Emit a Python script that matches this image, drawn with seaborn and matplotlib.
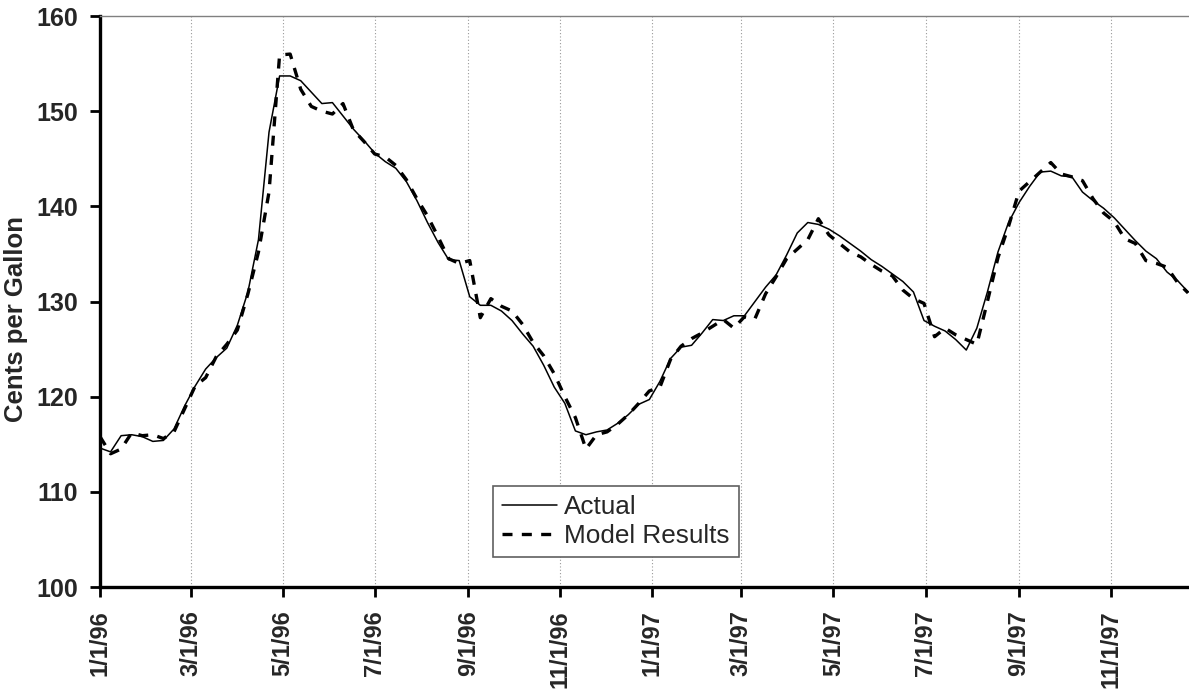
import matplotlib
matplotlib.use('Agg')
import matplotlib.pyplot as plt
import seaborn as sns
import pandas as pd

# weekly prices, cents per gallon
weeks = pd.date_range('1996-01-01', periods=104, freq='7D')

actual = [114.6, 114.2, 115.9, 116.0, 115.8, 115.3, 115.4, 116.6, 119.0, 121.1,
          122.9, 124.1, 125.1, 127.5, 131.0, 136.5, 147.8, 153.7, 153.7, 153.2,
          152.0, 150.8, 150.9, 149.5, 148.1, 146.9, 145.6, 144.7, 144.0, 142.6,
          140.6, 138.3, 136.2, 134.4, 134.3, 130.5, 129.6, 129.6, 129.0, 128.0,
          126.6, 125.3, 123.3, 121.0, 119.3, 116.4, 116.0, 116.3, 116.5, 117.2,
          118.1, 119.2, 119.7, 121.6, 124.0, 125.2, 125.4, 126.7, 128.1, 128.0,
          128.5, 128.5, 130.0, 131.5, 132.8, 134.9, 137.2, 138.3, 138.1, 137.6,
          136.9, 136.1, 135.3, 134.4, 133.7, 132.9, 132.1, 131.0, 128.0, 127.4,
          126.9, 126.0, 124.9, 127.2, 131.0, 135.2, 138.3, 140.4, 142.1, 143.6,
          143.7, 143.2, 143.1, 141.5, 140.6, 139.8, 138.8, 137.6, 136.4, 135.3,
          134.5, 133.1, 132.2, 131.0]

model = [115.8, 114.0, 114.5, 116.2, 115.9, 116.0, 115.6, 116.3, 118.7, 121.1,
         122.0, 124.2, 125.5, 127.0, 130.8, 135.2, 141.5, 155.9, 156.0, 152.3,
         150.5, 150.0, 149.7, 150.8, 148.0, 146.8, 145.5, 145.2, 144.3, 142.8,
         140.8, 139.0, 136.8, 134.5, 134.0, 134.3, 128.3, 130.3, 129.5, 129.0,
         127.6, 125.7, 124.3, 122.4, 120.0, 117.8, 114.5, 116.0, 116.3, 117.1,
         118.1, 119.3, 120.6, 121.0, 123.9, 125.3, 126.1, 126.7, 127.4, 128.1,
         127.2, 128.4, 128.2, 130.8, 132.6, 134.5, 135.5, 136.5, 138.7, 137.0,
         136.1, 135.2, 134.7, 133.9, 133.2, 132.7, 131.2, 130.3, 129.8, 126.3,
         127.2, 126.5, 126.0, 125.5, 130.0, 134.6, 137.9, 141.6, 142.6, 143.6,
         144.6, 143.4, 143.1, 142.7, 140.8, 139.3, 138.4, 136.6, 136.1, 134.3,
         134.0, 133.6, 132.0, 130.9]

tick_dates = pd.to_datetime(['1996-01-01', '1996-03-01', '1996-05-01', '1996-07-01',
                             '1996-09-01', '1996-11-01', '1997-01-01', '1997-03-01',
                             '1997-05-01', '1997-07-01', '1997-09-01', '1997-11-01'])
tick_labels = ['1/1/96', '3/1/96', '5/1/96', '7/1/96', '9/1/96', '11/1/96',
               '1/1/97', '3/1/97', '5/1/97', '7/1/97', '9/1/97', '11/1/97']

sns.set_style('white')
plt.rcParams['font.family'] = ['Liberation Sans', 'DejaVu Sans']

fig = plt.figure(figsize=(11.89, 6.92), dpi=100)
ax = fig.add_axes([100 / 1189, 105 / 692, 1089 / 1189, 571 / 692])

sns.lineplot(x=weeks, y=actual, ax=ax, color='black', linewidth=1.1, label='Actual')
sns.lineplot(x=weeks, y=model, ax=ax, color='black', linewidth=2.4,
             linestyle=(0, (3, 2.8)), label='Model Results')

ax.set_xlim(weeks[0], weeks[-1] + pd.Timedelta(hours=14))
ax.set_ylim(100, 160)
ax.set_yticks(range(100, 161, 10))
ax.set_xticks(tick_dates)
ax.set_xticklabels(tick_labels, rotation=90)

ax.tick_params(axis='both', bottom=True, left=True, direction='out', length=7,
               width=2, color='black')
ax.tick_params(axis='x', pad=10, labelsize=17)
ax.tick_params(axis='y', pad=9, labelsize=18)
for lab in ax.get_xticklabels() + ax.get_yticklabels():
    lab.set_fontweight('bold')

# spines like the old spreadsheet chart
ax.spines['left'].set_linewidth(2.4)
ax.spines['left'].set_color('black')
ax.spines['bottom'].set_linewidth(2.4)
ax.spines['bottom'].set_color('black')
ax.spines['top'].set_color('#808080')
ax.spines['top'].set_linewidth(1.0)
ax.spines['right'].set_visible(False)

ax.xaxis.grid(True, color='#999999', linestyle=(0, (1, 2)), linewidth=0.8)
ax.yaxis.grid(False)

ax.set_xlabel('')
ax.set_ylabel('Cents per Gallon', fontsize=18.5, fontweight='bold')
ax.yaxis.set_label_coords(-0.0665, 0.47)

leg = ax.legend(loc='lower left', bbox_to_anchor=(0.361, 0.0525), borderaxespad=0,
                frameon=True, fancybox=False, framealpha=1, edgecolor='#606060',
                fontsize=18.8, handlelength=2.1, handletextpad=0.26,
                borderpad=0.35, labelspacing=0.2)
leg.get_frame().set_linewidth(1.2)

fig.savefig('out.png', dpi=100)
